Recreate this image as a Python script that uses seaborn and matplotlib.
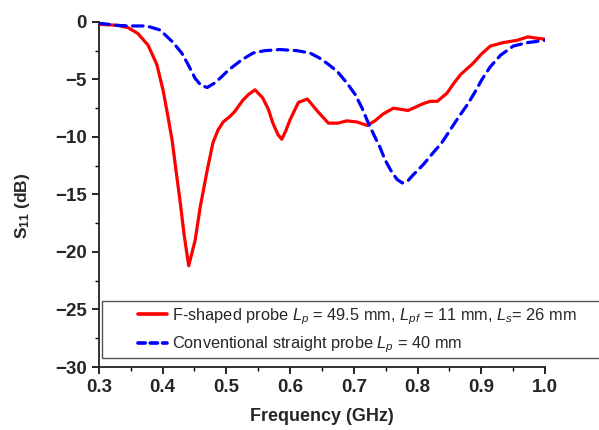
import pandas as pd
import matplotlib
matplotlib.use("Agg")
import matplotlib.pyplot as plt
import seaborn as sns
from matplotlib.ticker import MultipleLocator, FormatStrFormatter
from matplotlib.lines import Line2D
from matplotlib.patches import Rectangle

# S11 of the F-shaped probe (GHz, dB)
f_freq = [0.300, 0.330, 0.346, 0.361, 0.377, 0.391, 0.401, 0.408, 0.415, 0.421, 0.427, 0.434,
          0.441, 0.451, 0.459, 0.470, 0.479, 0.487, 0.495, 0.506, 0.513, 0.526, 0.535, 0.545,
          0.557, 0.566, 0.573, 0.581, 0.587, 0.593, 0.600, 0.613, 0.627, 0.642, 0.660, 0.675,
          0.689, 0.705, 0.721, 0.733, 0.746, 0.762, 0.774, 0.785, 0.797, 0.809, 0.820, 0.831,
          0.846, 0.856, 0.867, 0.887, 0.900, 0.914, 0.934, 0.956, 0.973, 0.985, 1.000]
f_s11 = [-0.2, -0.3, -0.5, -1.0, -2.0, -3.7, -6.0, -8.1, -10.3, -12.9, -15.4, -18.6,
         -21.2, -19.0, -16.1, -12.9, -10.5, -9.4, -8.7, -8.2, -7.8, -6.8, -6.3, -5.9,
         -6.6, -7.6, -8.8, -9.8, -10.2, -9.5, -8.5, -7.0, -6.7, -7.7, -8.8, -8.8,
         -8.6, -8.7, -9.0, -8.6, -8.0, -7.5, -7.6, -7.7, -7.4, -7.1, -6.9, -6.9,
         -6.2, -5.4, -4.6, -3.6, -2.8, -2.1, -1.8, -1.6, -1.3, -1.4, -1.5]

# S11 of the conventional straight probe (GHz, dB)
c_freq = [0.300, 0.328, 0.350, 0.375, 0.396, 0.415, 0.430, 0.440, 0.451, 0.460, 0.470, 0.482,
          0.492, 0.503, 0.524, 0.542, 0.560, 0.584, 0.611, 0.631, 0.645, 0.658, 0.674, 0.689,
          0.702, 0.713, 0.722, 0.733, 0.741, 0.749, 0.760, 0.768, 0.776, 0.785, 0.793, 0.809,
          0.824, 0.838, 0.851, 0.864, 0.878, 0.890, 0.901, 0.914, 0.930, 0.950, 0.972, 1.000]
c_s11 = [-0.1, -0.3, -0.35, -0.35, -0.7, -1.7, -2.7, -3.7, -4.9, -5.5, -5.7, -5.3,
         -4.8, -4.2, -3.3, -2.7, -2.5, -2.4, -2.5, -2.7, -3.1, -3.6, -4.3, -5.3,
         -6.3, -7.5, -8.7, -10.0, -10.9, -12.0, -13.1, -13.7, -14.0, -13.8, -13.3, -12.4,
         -11.4, -10.5, -9.4, -8.3, -7.2, -6.1, -5.0, -3.9, -2.9, -2.1, -1.8, -1.6]

label_f = r"F-shaped probe $L_p$ = 49.5 mm, $L_{pf}$ = 11 mm, $L_s$= 26 mm"
label_c = r"Conventional straight probe $L_p$ = 40 mm"
red, blue = "#ff0000", "#0000ff"
dash = (3.3, 2.0)

sns.set_style("ticks")
plt.rcParams["font.family"] = ["Liberation Sans", "DejaVu Sans"]
plt.rcParams["mathtext.fontset"] = "custom"
plt.rcParams["mathtext.rm"] = "Liberation Sans"
plt.rcParams["mathtext.it"] = "Liberation Sans:italic"
plt.rcParams["mathtext.bf"] = "Liberation Sans:bold"
plt.rcParams["lines.solid_joinstyle"] = "round"
plt.rcParams["lines.dash_capstyle"] = "round"

df = pd.concat([
    pd.DataFrame({"freq": f_freq, "s11": f_s11, "probe": label_f}),
    pd.DataFrame({"freq": c_freq, "s11": c_s11, "probe": label_c}),
])

fig = plt.figure(figsize=(5.99, 4.30), dpi=100)
ax = fig.add_axes([0.165, 0.1465, 0.745, 0.8025])

sns.lineplot(data=df, x="freq", y="s11", hue="probe", style="probe",
             palette={label_f: red, label_c: blue},
             dashes={label_f: "", label_c: dash},
             linewidth=2.3, sort=False, ax=ax, legend=False)

ax.set_xlim(0.3, 1.0)
ax.set_ylim(-30, 0)
ax.xaxis.set_major_locator(MultipleLocator(0.1))
ax.xaxis.set_minor_locator(MultipleLocator(0.05))
ax.xaxis.set_major_formatter(FormatStrFormatter("%.1f"))
ax.yaxis.set_major_locator(MultipleLocator(5))
ax.yaxis.set_minor_locator(MultipleLocator(2.5))
for lab in ax.get_xticklabels() + ax.get_yticklabels():
    lab.set_fontweight("bold")
    lab.set_fontsize(13.5)
ax.tick_params(which="major", length=5, width=1.2, color="black", direction="out")
ax.tick_params(which="minor", length=3, width=1.0, color="black", direction="out")
for side in ("top", "right"):
    ax.spines[side].set_visible(False)
for side in ("left", "bottom"):
    ax.spines[side].set_linewidth(1.3)
    ax.spines[side].set_color("#222222")

ax.set_xlabel("Frequency (GHz)", fontsize=13, fontweight="bold")
ax.xaxis.set_label_coords(0.5, -0.118)
ax.set_ylabel(r"$\mathbf{S_{11}}$ (dB)", fontsize=12.5, fontweight="bold")
ax.yaxis.set_label_coords(-0.150, 0.467)

# legend frame spanning to the right edge of the figure
fig.patches.append(Rectangle((102 / 599, 1 - 358 / 430), 1.0, 57 / 430,
                             transform=fig.transFigure, fill=False,
                             edgecolor="#555555", linewidth=1.0, zorder=3))
handles = [Line2D([], [], color=red, lw=2.6),
           Line2D([], [], color=blue, lw=2.6, dashes=(2.0, 1.4))]
fig.legend(handles, [label_f, label_c], loc="upper left",
           bbox_to_anchor=(138 / 599, 1 - 306 / 430), frameon=False,
           fontsize=11.8, handlelength=1.77, handletextpad=0.28,
           borderaxespad=0, borderpad=0, labelspacing=0.5)

fig.savefig("out.png", dpi=100)
